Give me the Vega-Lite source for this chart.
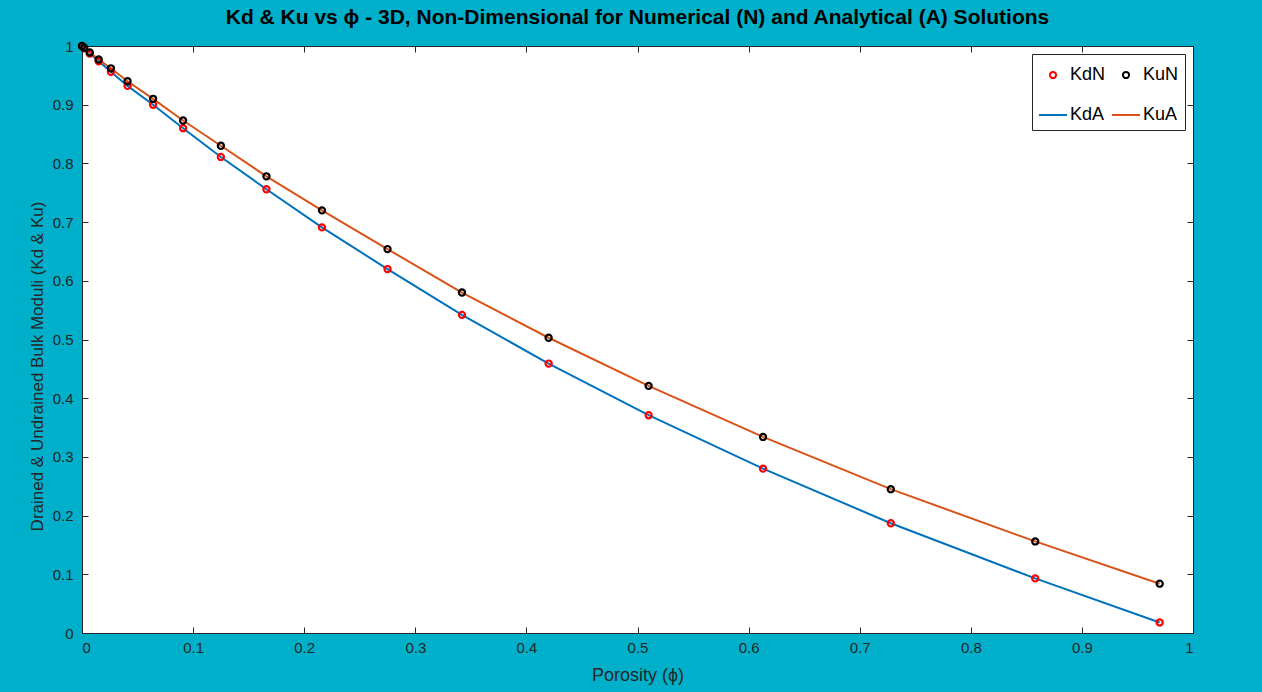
{
  "$schema": "https://vega.github.io/schema/vega-lite/v6.json",
  "width": 1111,
  "height": 587,
  "autosize": {"type": "none"},
  "padding": {"left": 82, "top": 46, "right": 69, "bottom": 59},
  "background": "#00B0CA",
  "title": {
    "text": "Kd & Ku vs ϕ - 3D, Non-Dimensional for Numerical (N) and Analytical (A) Solutions",
    "font": "Liberation Sans",
    "fontSize": 21,
    "fontWeight": "bold",
    "color": "#000000",
    "offset": 11,
    "anchor": "middle"
  },
  "config": {
    "view": {"stroke": "#262626", "strokeWidth": 1, "fill": "white"},
    "axis": {
      "labelFont": "Liberation Sans",
      "titleFont": "Liberation Sans",
      "labelFontSize": 15,
      "titleFontSize": 17,
      "titleFontWeight": "normal",
      "labelColor": "#262626",
      "titleColor": "#262626",
      "domainColor": "#262626",
      "tickColor": "#262626",
      "grid": false
    },
    "legend": {
      "title": null,
      "orient": "top-right",
      "direction": "horizontal",
      "columns": 2,
      "offset": 8,
      "fillColor": "white",
      "strokeColor": "#262626",
      "padding": 6,
      "labelFont": "Liberation Sans",
      "labelFontSize": 18,
      "labelColor": "#000000",
      "symbolSize": 784,
      "symbolStrokeWidth": 2,
      "columnPadding": 2,
      "rowPadding": 16,
      "labelOffset": 2
    }
  },
  "datasets": {
    "pts": [
      {"phi": 0.0, "K": 1.0, "series": "KdN"},
      {"phi": 0.002, "K": 0.996, "series": "KdN"},
      {"phi": 0.007, "K": 0.987, "series": "KdN"},
      {"phi": 0.015, "K": 0.974, "series": "KdN"},
      {"phi": 0.026, "K": 0.956, "series": "KdN"},
      {"phi": 0.041, "K": 0.932, "series": "KdN"},
      {"phi": 0.064, "K": 0.900, "series": "KdN"},
      {"phi": 0.091, "K": 0.860, "series": "KdN"},
      {"phi": 0.125, "K": 0.811, "series": "KdN"},
      {"phi": 0.166, "K": 0.756, "series": "KdN"},
      {"phi": 0.216, "K": 0.691, "series": "KdN"},
      {"phi": 0.275, "K": 0.620, "series": "KdN"},
      {"phi": 0.342, "K": 0.542, "series": "KdN"},
      {"phi": 0.420, "K": 0.459, "series": "KdN"},
      {"phi": 0.510, "K": 0.371, "series": "KdN"},
      {"phi": 0.613, "K": 0.280, "series": "KdN"},
      {"phi": 0.728, "K": 0.187, "series": "KdN"},
      {"phi": 0.858, "K": 0.093, "series": "KdN"},
      {"phi": 0.970, "K": 0.018, "series": "KdN"},
      {"phi": 0.0, "K": 1.0, "series": "KuN"},
      {"phi": 0.002, "K": 0.997, "series": "KuN"},
      {"phi": 0.007, "K": 0.989, "series": "KuN"},
      {"phi": 0.015, "K": 0.977, "series": "KuN"},
      {"phi": 0.026, "K": 0.962, "series": "KuN"},
      {"phi": 0.041, "K": 0.940, "series": "KuN"},
      {"phi": 0.064, "K": 0.910, "series": "KuN"},
      {"phi": 0.091, "K": 0.873, "series": "KuN"},
      {"phi": 0.125, "K": 0.830, "series": "KuN"},
      {"phi": 0.166, "K": 0.778, "series": "KuN"},
      {"phi": 0.216, "K": 0.720, "series": "KuN"},
      {"phi": 0.275, "K": 0.654, "series": "KuN"},
      {"phi": 0.342, "K": 0.580, "series": "KuN"},
      {"phi": 0.420, "K": 0.503, "series": "KuN"},
      {"phi": 0.510, "K": 0.421, "series": "KuN"},
      {"phi": 0.613, "K": 0.334, "series": "KuN"},
      {"phi": 0.728, "K": 0.245, "series": "KuN"},
      {"phi": 0.858, "K": 0.156, "series": "KuN"},
      {"phi": 0.970, "K": 0.084, "series": "KuN"}
    ],
    "lines": [
      {"phi": 0.0, "K": 1.0, "series": "KdA"},
      {"phi": 0.002, "K": 0.996, "series": "KdA"},
      {"phi": 0.007, "K": 0.987, "series": "KdA"},
      {"phi": 0.015, "K": 0.974, "series": "KdA"},
      {"phi": 0.026, "K": 0.956, "series": "KdA"},
      {"phi": 0.041, "K": 0.932, "series": "KdA"},
      {"phi": 0.064, "K": 0.900, "series": "KdA"},
      {"phi": 0.091, "K": 0.860, "series": "KdA"},
      {"phi": 0.125, "K": 0.811, "series": "KdA"},
      {"phi": 0.166, "K": 0.756, "series": "KdA"},
      {"phi": 0.216, "K": 0.691, "series": "KdA"},
      {"phi": 0.275, "K": 0.620, "series": "KdA"},
      {"phi": 0.342, "K": 0.542, "series": "KdA"},
      {"phi": 0.420, "K": 0.459, "series": "KdA"},
      {"phi": 0.510, "K": 0.371, "series": "KdA"},
      {"phi": 0.613, "K": 0.280, "series": "KdA"},
      {"phi": 0.728, "K": 0.187, "series": "KdA"},
      {"phi": 0.858, "K": 0.093, "series": "KdA"},
      {"phi": 0.970, "K": 0.018, "series": "KdA"},
      {"phi": 0.0, "K": 1.0, "series": "KuA"},
      {"phi": 0.002, "K": 0.997, "series": "KuA"},
      {"phi": 0.007, "K": 0.989, "series": "KuA"},
      {"phi": 0.015, "K": 0.977, "series": "KuA"},
      {"phi": 0.026, "K": 0.962, "series": "KuA"},
      {"phi": 0.041, "K": 0.940, "series": "KuA"},
      {"phi": 0.064, "K": 0.910, "series": "KuA"},
      {"phi": 0.091, "K": 0.873, "series": "KuA"},
      {"phi": 0.125, "K": 0.830, "series": "KuA"},
      {"phi": 0.166, "K": 0.778, "series": "KuA"},
      {"phi": 0.216, "K": 0.720, "series": "KuA"},
      {"phi": 0.275, "K": 0.654, "series": "KuA"},
      {"phi": 0.342, "K": 0.580, "series": "KuA"},
      {"phi": 0.420, "K": 0.503, "series": "KuA"},
      {"phi": 0.510, "K": 0.421, "series": "KuA"},
      {"phi": 0.613, "K": 0.334, "series": "KuA"},
      {"phi": 0.728, "K": 0.245, "series": "KuA"},
      {"phi": 0.858, "K": 0.156, "series": "KuA"},
      {"phi": 0.970, "K": 0.084, "series": "KuA"}
    ]
  },
  "layer": [
    {
      "data": {"name": "lines"},
      "mark": {"type": "line", "strokeWidth": 2, "clip": false},
      "encoding": {
        "x": {
          "field": "phi", "type": "quantitative",
          "scale": {"domain": [0, 1], "nice": false, "zero": false},
          "axis": {"title": "Porosity (ϕ)", "titleFontSize": 18, "values": [0,0.1,0.2,0.3,0.4,0.5,0.6,0.7,0.8,0.9,1], "format": "~g", "tickSize": -6, "labelPadding": 13, "titlePadding": 11, "orient": "bottom"}
        },
        "y": {
          "field": "K", "type": "quantitative",
          "scale": {"domain": [0, 1], "nice": false, "zero": false},
          "axis": {"title": "Drained & Undrained Bulk Moduli (Kd & Ku)", "values": [0,0.1,0.2,0.3,0.4,0.5,0.6,0.7,0.8,0.9,1], "format": "~g", "tickSize": -6, "labelPadding": 15, "titlePadding": 6, "titleY": 320, "orient": "left"}
        },
        "color": {
          "field": "series", "type": "nominal",
          "scale": {"domain": ["KdN", "KuN", "KdA", "KuA"], "range": ["#FF0000", "#000000", "#0072BD", "#D95319"]}
        }
      }
    },
    {
      "data": {"name": "pts"},
      "mark": {"type": "point", "filled": false, "strokeWidth": 2.2, "opacity": 1, "size": 784, "clip": false},
      "encoding": {
        "x": {"field": "phi", "type": "quantitative", "axis": {"title": null, "labels": false, "values": [0,0.1,0.2,0.3,0.4,0.5,0.6,0.7,0.8,0.9,1], "tickSize": -6, "domain": false, "orient": "top"}},
        "y": {"field": "K", "type": "quantitative", "axis": {"title": null, "labels": false, "values": [0,0.1,0.2,0.3,0.4,0.5,0.6,0.7,0.8,0.9,1], "tickSize": -6, "domain": false, "orient": "right"}},
        "color": {"field": "series", "type": "nominal"},
        "shape": {
          "field": "series", "type": "nominal",
          "scale": {"domain": ["KdN", "KuN", "KdA", "KuA"], "range": ["M0.22,0A0.22,0.22,0,1,1,-0.22,0A0.22,0.22,0,1,1,0.22,0Z", "M0.22,0A0.22,0.22,0,1,1,-0.22,0A0.22,0.22,0,1,1,0.22,0Z", "M-1,0H1", "M-1,0H1"]}
        }
      }
    }
  ],
  "resolve": {"axis": {"x": "independent", "y": "independent"}}
}
